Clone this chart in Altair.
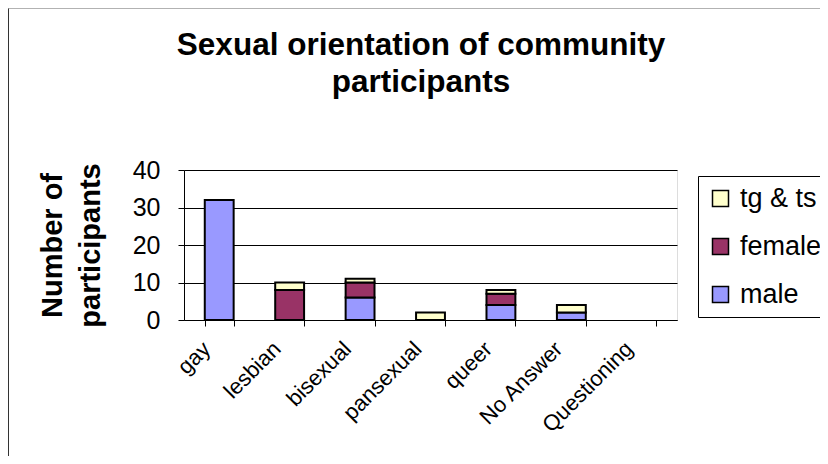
import altair as alt
import pandas as pd

categories = ["gay", "lesbian", "bisexual", "pansexual", "queer", "No Answer", "Questioning"]
male = [32, 0, 6, 0, 4, 2, 0]
female = [0, 8, 4, 0, 3, 0, 0]
tg_ts = [0, 2, 1, 2, 1, 2, 0]
series_names = ["male", "female", "tg & ts"]
legend_order = ["tg & ts", "female", "male"]
colors = ["#FFFFCC", "#993366", "#9999FF"]
y_ticks = [0, 10, 20, 30, 40]
title_lines = ["Sexual orientation of community", "participants"]
y_title = ["Number of", "participants"]

rows = []
for i, c in enumerate(categories):
    for k, (name, vals) in enumerate(zip(series_names, [male, female, tg_ts])):
        rows.append({"cat": c, "series": name, "value": vals[i], "order": k})
df = pd.DataFrame(rows)

FONT = "Liberation Sans"
W, H = 493, 150

bars = alt.Chart(df).transform_filter("datum.value > 0").mark_bar(
    stroke="black", strokeWidth=2
).encode(
    x=alt.X("cat:N", sort=categories,
            scale=alt.Scale(domain=categories, paddingInner=0.59, paddingOuter=0.295),
            axis=alt.Axis(title=None, labelAngle=315, labelAlign="right", labelBaseline="middle",
                          labelFont=FONT, labelFontSize=22, labelColor="black", labelPadding=19,
                          labelOffset=-13,
                          tickBand="extent", tickSize=6, tickColor="black", domainColor="black",
                          labelLimit=300)),
    y=alt.Y("value:Q", stack="zero",
            scale=alt.Scale(domain=[0, 40], nice=False),
            axis=alt.Axis(values=y_ticks, title=y_title,
                          titleFont=FONT, titleFontSize=29, titleFontWeight="bold", titleColor="black",
                          titleAngle=270, titleX=-146, titleY=75, titleAlign="center",
                          titleBaseline="top", titleLineHeight=38,
                          labelFont=FONT, labelFontSize=25, labelColor="black", labelPadding=18,
                          tickSize=6, tickColor="black", domainColor="black",
                          grid=True, gridColor="black", gridOpacity=1, gridWidth=1)),
    color=alt.Color("series:N",
                    scale=alt.Scale(domain=legend_order, range=colors),
                    legend=alt.Legend(title=None, orient="none", legendX=514, legendY=6,
                                      labelFont=FONT, labelFontSize=27, labelColor="black",
                                      symbolType="square", symbolSize=256, symbolStrokeColor="black",
                                      symbolStrokeWidth=1.5, symbolOpacity=1, rowPadding=20, labelOffset=6,
                                      strokeColor="black", fillColor="white", padding=9)),
    order=alt.Order("order:Q", sort="ascending"),
)

one = pd.DataFrame({"k": [0]})
frame_left = alt.Chart(one).mark_rule(color="#333333", strokeWidth=2).encode(
    x=alt.value(-176), y=alt.value(-162), y2=alt.value(300))
frame_top = alt.Chart(one).mark_rule(color="#999999", strokeWidth=1.5).encode(
    x=alt.value(-176), x2=alt.value(660), y=alt.value(-162))

title = alt.Chart(one).mark_text(
    font=FONT, fontSize=31.5, fontWeight="bold", color="black",
    align="center", baseline="alphabetic", lineHeight=37
).encode(x=alt.value(237), y=alt.value(-115), text=alt.value(title_lines))

chart = alt.layer(frame_left, frame_top, title, bars).properties(
    width=W, height=H,
    autosize=alt.AutoSizeParams(type="none"),
    padding={"left": 176, "top": 162, "right": 143, "bottom": 136},
).configure_view(stroke="#808080", strokeWidth=1).configure(background="white")

chart.save("out.html", embed_options={"renderer": "svg", "actions": False})
